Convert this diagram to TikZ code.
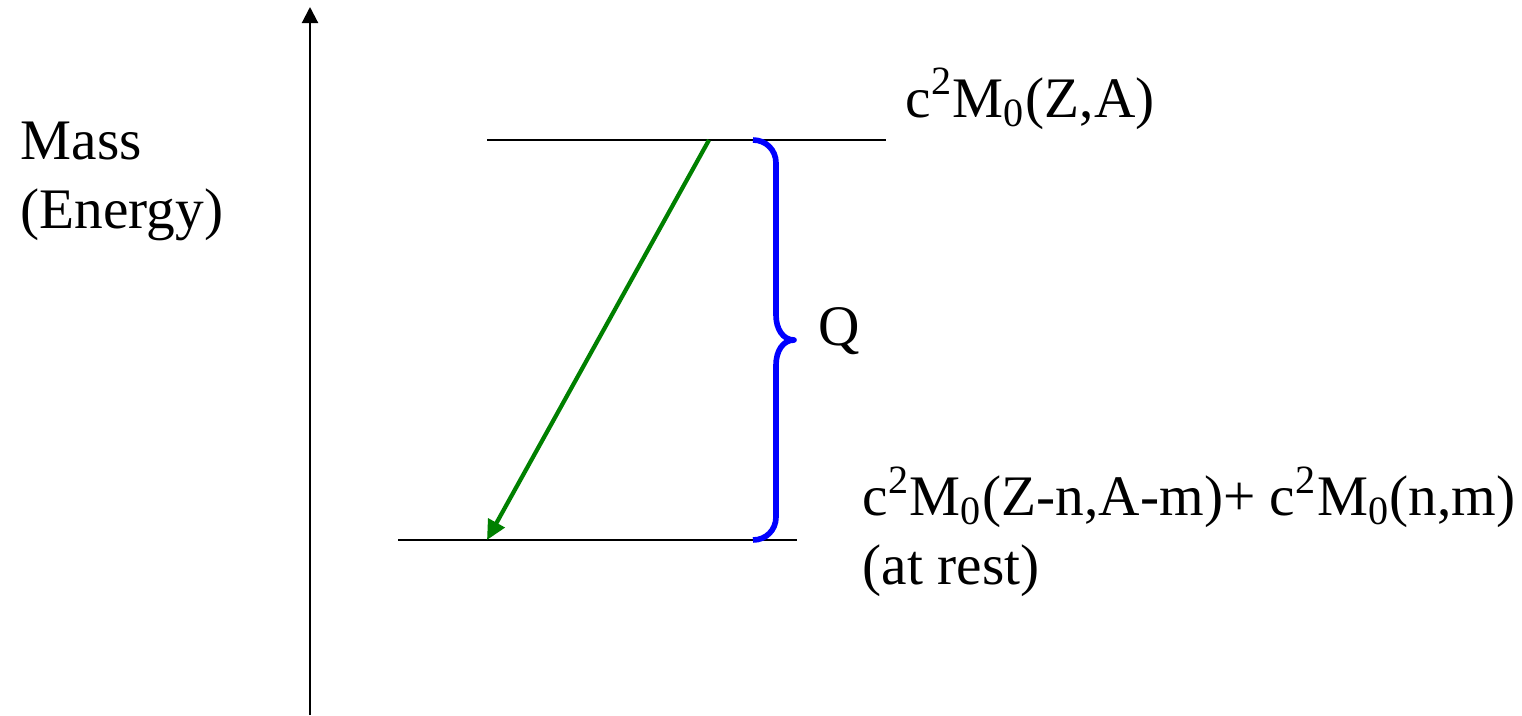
\documentclass[tikz,border=0pt]{standalone}
\usepackage{fontspec}
\setmainfont{Liberation Serif}
\usetikzlibrary{arrows.meta}

\begin{document}
\begin{tikzpicture}[x=0.01cm,y=-0.01cm,
    lbl/.style={inner sep=0pt,font=\fontsize{16.3}{19.5}\selectfont,align=left},
    level/.style={line width=0.6pt},
    axis/.style={line width=0.6pt,-{Triangle[length=4.6pt,width=4.6pt]}},
    decay/.style={draw=green!50!black,line width=1.2pt,-{Triangle[length=5.6pt,width=5.2pt]}},
    qbrace/.style={draw=blue,line width=1.6pt,line join=round}]
    \useasboundingbox (0,0) rectangle (1522,715);
    \coordinate (axbot) at (310,715);  \coordinate (axtop) at (310,7);
    \coordinate (topL)  at (487,140);  \coordinate (topR)  at (886,140);
    \coordinate (botL)  at (398,540);  \coordinate (botR)  at (797,540);
    \coordinate (start) at (709,140);  \coordinate (end)   at (487,540);
    \coordinate (qtop)  at (753,140);  \coordinate (qbot)  at (753,540);
    \coordinate (qtip)  at (794,340);
    \node[lbl,anchor=base west] (mass) at (20,228) {Mass\\(Energy)};
    \node[lbl,anchor=base west] (parent) at (905,117) {c\textsuperscript{2}M\textsubscript{0}(Z,A)};
    \node[lbl,anchor=base west] (daughter) at (862,584) {c\textsuperscript{2}M\textsubscript{0}(Z-n,A-m)+ c\textsuperscript{2}M\textsubscript{0}(n,m)\\(at rest)};
    \node[lbl,anchor=base west] (q) at (818,345) {Q};
    \draw[axis] (axbot) -- (axtop);
    \draw[level] (topL) -- (topR);
    \draw[level] (botL) -- (botR);
    \draw[decay] (start) -- (end);
    \draw[qbrace] (qtop) .. controls +(13,0) and +(0,-13) .. (776,163) -- (776,315)
        .. controls +(0,14) and +(-11,0) .. (qtip)
        .. controls +(-11,0) and +(0,-14) .. (776,365) -- (776,517)
        .. controls +(0,13) and +(13,0) .. (qbot);
  \end{tikzpicture}
\end{document}
